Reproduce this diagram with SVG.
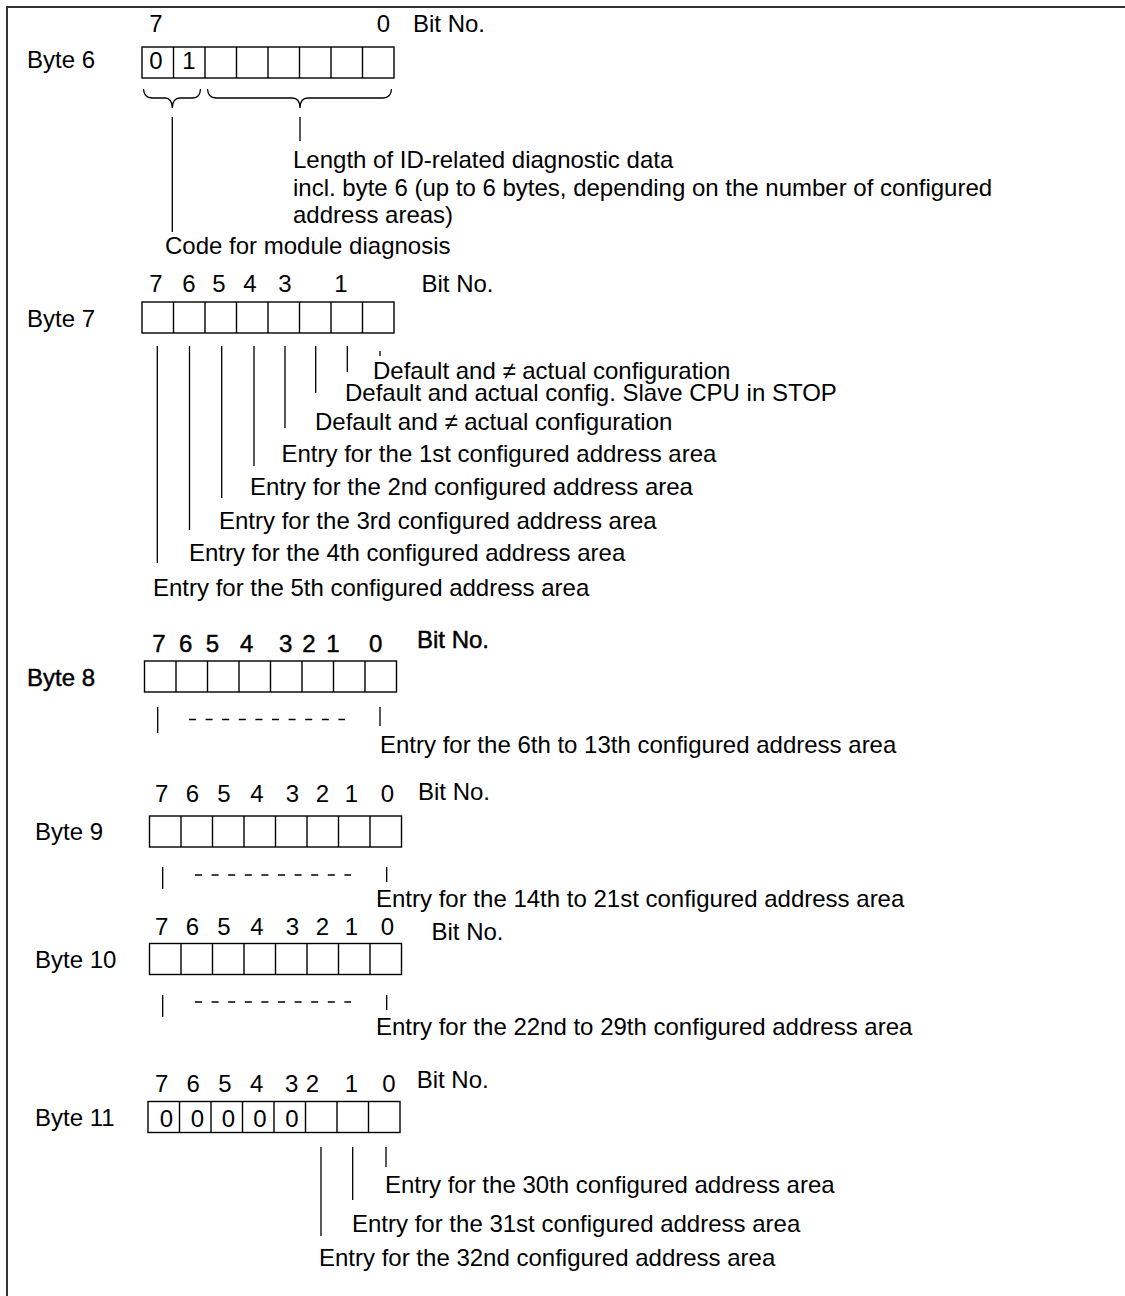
<svg xmlns="http://www.w3.org/2000/svg" width="1125" height="1296" viewBox="0 0 1125 1296">
<style>
text{font-family:"Liberation Sans",Arial,sans-serif;font-size:24px;fill:#000}
.m{text-anchor:middle}
.b text{stroke:#000;stroke-width:0.45px}
.cell{fill:none;stroke:#000;stroke-width:1.4}
.ln{stroke:#000;stroke-width:1.3;fill:none}
.dash{stroke:#000;stroke-width:1.3;stroke-dasharray:7 9.6}
.frame{stroke:#333;stroke-width:2;fill:none}
</style>
<defs>
<g id="cells8">
<rect x="0" y="0" width="252" height="31" class="cell"/>
<path class="cell" d="M31.5,0V31M63,0V31M94.5,0V31M126,0V31M157.5,0V31M189,0V31M220.5,0V31"/>
</g>
</defs>
<path class="frame" d="M7,1296V7H1125"/>

<g id="byte6">
<text x="27" y="68">Byte 6</text>
<text x="156" y="32" class="m">7</text>
<text x="383.5" y="32" class="m">0</text>
<text x="413" y="32">Bit No.</text>
<use href="#cells8" x="142" y="47"/>
<text x="156" y="69" class="m">0</text>
<text x="189" y="69" class="m">1</text>
<text x="293" y="167.5">Length of ID-related diagnostic data</text>
<text x="293" y="195.5">incl. byte 6 (up to 6 bytes, depending on the number of configured</text>
<text x="293" y="222.5">address areas)</text>
<text x="165" y="253.5">Code for module diagnosis</text>
</g>

<g id="byte7">
<text x="27" y="327">Byte 7</text>
<text x="156" y="292" class="m">7</text>
<text x="189" y="292" class="m">6</text>
<text x="219" y="292" class="m">5</text>
<text x="250" y="292" class="m">4</text>
<text x="285" y="292" class="m">3</text>
<text x="341" y="292" class="m">1</text>
<text x="421.5" y="292">Bit No.</text>
<use href="#cells8" x="142" y="302"/>
<text x="373" y="379">Default and ≠ actual configuration</text>
<text x="345" y="401">Default and actual config. Slave CPU in STOP</text>
<text x="315" y="430">Default and ≠ actual configuration</text>
<text x="281.5" y="461.5">Entry for the 1st configured address area</text>
<text x="250" y="495">Entry for the 2nd configured address area</text>
<text x="219" y="529">Entry for the 3rd configured address area</text>
<text x="189" y="561">Entry for the 4th configured address area</text>
<text x="153" y="596">Entry for the 5th configured address area</text>
</g>

<g id="byte8" class="b">
<text x="27" y="685.5">Byte 8</text>
<text x="159" y="651.5" class="m">7</text>
<text x="185.7" y="651.5" class="m">6</text>
<text x="212.5" y="651.5" class="m">5</text>
<text x="246.7" y="651.5" class="m">4</text>
<text x="285.8" y="651.5" class="m">3</text>
<text x="309" y="651.5" class="m">2</text>
<text x="333" y="651.5" class="m">1</text>
<text x="375.8" y="651.5" class="m">0</text>
<text x="417" y="648">Bit No.</text>
<use href="#cells8" x="144.5" y="661"/>
<text x="380" y="753" style="stroke:none">Entry for the 6th to 13th configured address area</text>
</g>

<g id="byte9">
<text x="35" y="839.5">Byte 9</text>
<text x="161.7" y="801.5" class="m">7</text>
<text x="192.5" y="801.5" class="m">6</text>
<text x="224" y="801.5" class="m">5</text>
<text x="257" y="801.5" class="m">4</text>
<text x="292.5" y="801.5" class="m">3</text>
<text x="322.5" y="801.5" class="m">2</text>
<text x="351.5" y="801.5" class="m">1</text>
<text x="387.5" y="801.5" class="m">0</text>
<text x="418" y="800">Bit No.</text>
<use href="#cells8" x="149.5" y="816"/>
<text x="376" y="907">Entry for the 14th to 21st configured address area</text>
</g>

<g id="byte10">
<text x="35" y="967.5">Byte 10</text>
<text x="161.7" y="935" class="m">7</text>
<text x="192.5" y="935" class="m">6</text>
<text x="224" y="935" class="m">5</text>
<text x="257" y="935" class="m">4</text>
<text x="292.5" y="935" class="m">3</text>
<text x="322.5" y="935" class="m">2</text>
<text x="351.5" y="935" class="m">1</text>
<text x="387.5" y="935" class="m">0</text>
<text x="431.5" y="940">Bit No.</text>
<use href="#cells8" x="149.5" y="943.5"/>
<text x="376" y="1035">Entry for the 22nd to 29th configured address area</text>
</g>

<g id="byte11">
<text x="35" y="1125.5">Byte 11</text>
<text x="161.7" y="1091.5" class="m">7</text>
<text x="193.3" y="1091.5" class="m">6</text>
<text x="225" y="1091.5" class="m">5</text>
<text x="256.7" y="1091.5" class="m">4</text>
<text x="291.8" y="1091.5" class="m">3</text>
<text x="312.5" y="1091.5" class="m">2</text>
<text x="351.5" y="1091.5" class="m">1</text>
<text x="389" y="1091.5" class="m">0</text>
<text x="416.7" y="1088">Bit No.</text>
<use href="#cells8" x="148" y="1101.5"/>
<text x="166.5" y="1127" class="m">0</text>
<text x="197.5" y="1127" class="m">0</text>
<text x="228.5" y="1127" class="m">0</text>
<text x="260" y="1127" class="m">0</text>
<text x="292" y="1127" class="m">0</text>
<text x="385" y="1193">Entry for the 30th configured address area</text>
<text x="352" y="1232">Entry for the 31st configured address area</text>
<text x="319" y="1266">Entry for the 32nd configured address area</text>
</g>

<g id="connectors">
<path class="ln" d="M143.5,89 Q144,98 152,98 H165 Q172,98 172.3,108 Q172.6,98 180,98 H193 Q200,98 200.5,89"/>
<path class="ln" d="M207.5,89 Q208,98 216,98 H292 Q300,98 300,108 Q300,98 308,98 H383 Q391,98 391.5,89"/>
<path class="ln" d="M172.3,117V232M300,117V141"/>
<path class="ln" d="M380,351V356M347.3,346V372M315.7,346V393M285,346V428M254,346V466M221.7,346V498M189.5,346V530M157.3,346V563"/>
<path class="ln" d="M157.7,707V733M380,707V726"/>
<line class="dash" x1="189" y1="719.5" x2="345" y2="719.5"/>
<path class="ln" d="M162.7,867V889M386.7,867V882"/>
<line class="dash" x1="195" y1="875" x2="351" y2="875"/>
<path class="ln" d="M162.7,995V1017M386.7,995V1010"/>
<line class="dash" x1="195" y1="1002" x2="351" y2="1002"/>
<path class="ln" d="M386,1147V1167M352.7,1147V1200M321,1147V1236"/>
</g>
</svg>
